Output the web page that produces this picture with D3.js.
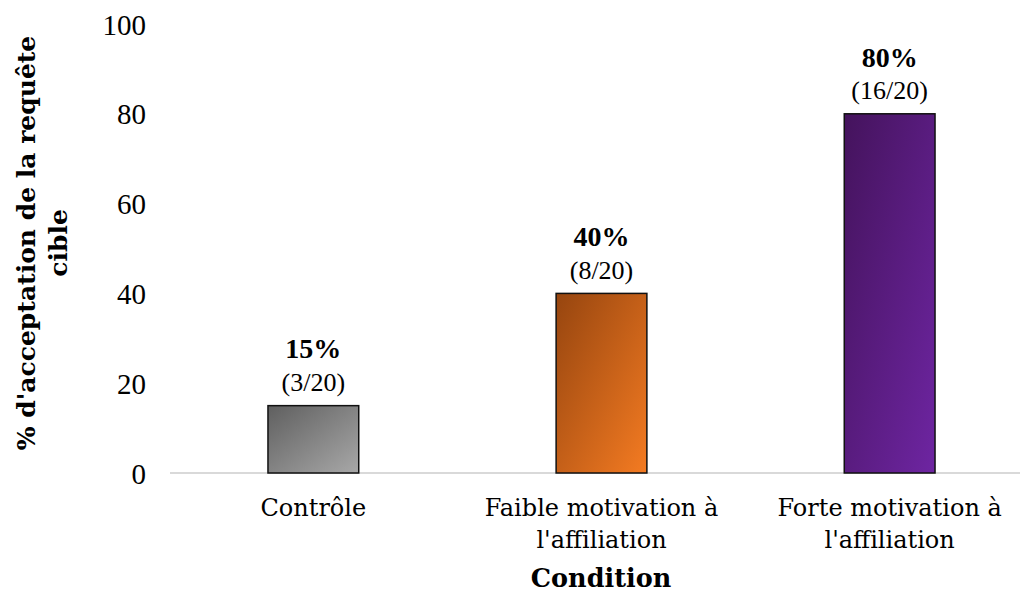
<!DOCTYPE html>
<html>
<head>
<meta charset="utf-8">
<script src="https://cdn.jsdelivr.net/npm/d3@7"></script>
<style>
  body { margin: 0; background: #fff; }
  text { font-family: "Liberation Serif", "Times New Roman", serif; fill: #000; }
  .wide { font-family: "DejaVu Serif", Georgia, serif; }
</style>
</head>
<body>
<script>
// donnees
const categories = [["Contrôle"], ["Faible motivation à", "l'affiliation"], ["Forte motivation à", "l'affiliation"]]
const values = [15, 40, 80]
const counts = ["(3/20)", "(8/20)", "(16/20)"]
const yTicks = [0, 20, 40, 60, 80, 100]
const gradients = [["#5f5f5f", "#a8a8a8"], ["#96450f", "#f47b22"], ["#44135c", "#6e25a2"]]

const width = 1023, height = 592
const mLeft = 170, mRight = 1033, mTop = 24, mBottom = 473

let svg = d3.select('body')
    .append('svg')
    .attr('width', width)
    .attr('height', height)

let x = d3.scaleBand()
    .domain(d3.range(values.length))
    .range([mLeft, mRight])
    .paddingInner(0.685)
    .paddingOuter(0.34)

let y = d3.scaleLinear()
    .domain([0, 100])
    .range([mBottom, mTop])

// degradés
let defs = svg.append('defs')
gradients.forEach((g, i) => {
    let lg = defs.append('linearGradient')
        .attr('id', 'grad' + i)
        .attr('x1', '0').attr('y1', '0')
        .attr('x2', '1').attr('y2', '1')
    lg.append('stop').attr('offset', '0').attr('stop-color', g[0])
    lg.append('stop').attr('offset', '1').attr('stop-color', g[1])
})

// axe y (labels seulement)
let gy = svg.append('g')
    .attr('transform', `translate(${mLeft - 24},0)`)
    .call(d3.axisLeft(y).tickValues(yTicks).tickSize(0).tickPadding(0))
gy.select('.domain').remove()
gy.selectAll('text')
    .style('font-family', '"Liberation Serif", serif')
    .style('font-size', '29px')
    .attr('fill', '#000')
    .attr('dy', '0.35em')

// ligne de base
svg.append('line')
    .attr('x1', mLeft).attr('x2', 1020)
    .attr('y1', y(0)).attr('y2', y(0))
    .attr('stroke', '#d9d9d9')
    .attr('stroke-width', 2)

// barres
svg.selectAll('rect.bar')
    .data(values)
    .enter()
    .append('rect')
    .attr('class', 'bar')
    .attr('x', (d, i) => x(i))
    .attr('y', d => y(d))
    .attr('width', x.bandwidth())
    .attr('height', d => y(0) - y(d))
    .attr('fill', (d, i) => `url(#grad${i})`)
    .attr('stroke', '#111')
    .attr('stroke-width', 1.5)

// etiquettes
svg.selectAll('text.pct')
    .data(values)
    .enter()
    .append('text')
    .attr('class', 'pct')
    .attr('x', (d, i) => x(i) + x.bandwidth() / 2)
    .attr('y', d => y(d) - 57)
    .attr('text-anchor', 'middle')
    .attr('dy', '0.35em')
    .style('font-size', '28px')
    .style('font-weight', 'bold')
    .text(d => d + '%')

svg.selectAll('text.cnt')
    .data(counts)
    .enter()
    .append('text')
    .attr('class', 'cnt')
    .attr('x', (d, i) => x(i) + x.bandwidth() / 2)
    .attr('y', (d, i) => y(values[i]) - 24)
    .attr('text-anchor', 'middle')
    .attr('dy', '0.35em')
    .style('font-size', '26px')
    .text(d => d)

// categories
let cat = svg.selectAll('text.cat')
    .data(categories)
    .enter()
    .append('text')
    .attr('class', 'cat wide')
    .attr('x', (d, i) => x(i) + x.bandwidth() / 2)
    .attr('y', 508)
    .attr('text-anchor', 'middle')
    .style('font-size', '24px')
cat.selectAll('tspan')
    .data(d => d)
    .enter()
    .append('tspan')
    .attr('x', function () { return this.parentNode.getAttribute('x') })
    .attr('dy', (d, i) => i === 0 ? '0.35em' : '1.33em')
    .text(d => d)

// titres
svg.append('text')
    .attr('class', 'wide')
    .attr('x', 601)
    .attr('y', 578)
    .attr('dy', '0.35em')
    .attr('text-anchor', 'middle')
    .style('font-size', '25.5px')
    .style('font-weight', 'bold')
    .text('Condition')

let yt = svg.append('text')
    .attr('class', 'wide')
    .attr('transform', 'translate(26,243) rotate(-90)')
    .attr('text-anchor', 'middle')
    .style('font-size', '25px')
    .style('font-weight', 'bold')
yt.append('tspan').attr('x', 0).attr('dy', '0.35em').text("% d'acceptation de la requête")
yt.append('tspan').attr('x', 0).attr('dy', '1.28em').text('cible')
</script>
</body>
</html>
